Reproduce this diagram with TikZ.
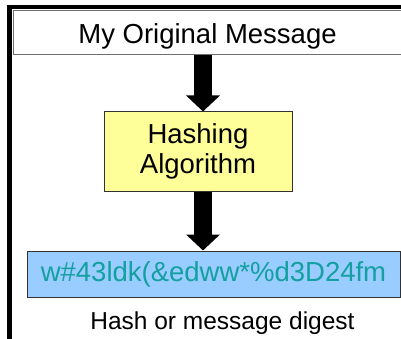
\documentclass[tikz,border=0pt]{standalone}
\usepackage{fontspec}
\setmainfont{Liberation Sans}
\usetikzlibrary{arrows.meta}

\definecolor{boxyellow}{HTML}{FFFF99}
\definecolor{boxblue}{HTML}{99CCFF}
\definecolor{digestteal}{RGB}{20,160,160}
\definecolor{framegray}{RGB}{110,110,110}
\definecolor{edgegray}{RGB}{50,50,50}

\tikzset{
  bigtext/.style={font=\fontsize{27.5}{30}\selectfont, text=black},
  smalltext/.style={font=\fontsize{24.5}{27}\selectfont, text=black},
  stagebox/.style={draw=edgegray, line width=1pt, inner sep=0pt, align=center},
  blockarrow/.style={draw=black, line width=18pt,
    -{Triangle[width=33pt, length=16pt]}},
}

\begin{document}
\begin{tikzpicture}[x=1pt, y=-1pt]
  \clip (0,0) rectangle (401,339);
  \fill[white] (0,0) rectangle (401,339);

  % heavy outer frame (left and top edges)
  \draw[black, line width=4.8pt] (9.5,7) rectangle (430,360);

  % header strip with the original message
  \node[draw=framegray, line width=1pt, minimum width=420pt, minimum height=44pt,
        inner sep=0pt, anchor=north west] (titlebox) at (12.5,10) {};
  \node[bigtext, anchor=base] (title) at (207.5,43.7) {My Original Message};

  % hashing stage
  \node[stagebox, bigtext, fill=boxyellow, minimum width=188pt, minimum height=79pt]
        (algo) at (198,151.5) {Hashing\\Algorithm};

  % resulting digest
  \node[stagebox, fill=boxblue, minimum width=373pt, minimum height=46pt,
        font=\fontsize{27.5}{30}\selectfont, text=digestteal]
        (hash) at (213.5,274) {w\#43ldk(\&edww*\%d3D24fm};
  \node[smalltext, anchor=base] (caption) at (222.5,329) {Hash or message digest};

  % flow arrows
  \coordinate (ax) at (203,0);
  \draw[blockarrow] (titlebox.south -| ax) -- (algo.north -| ax);
  \draw[blockarrow] (algo.south -| ax) -- (hash.north -| ax);
\end{tikzpicture}
\end{document}
